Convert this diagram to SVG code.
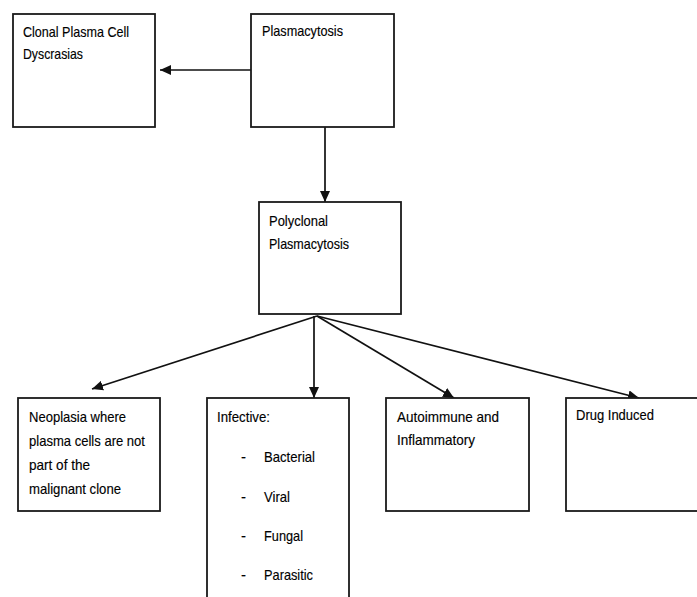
<svg xmlns="http://www.w3.org/2000/svg" width="697" height="597" viewBox="0 0 697 597">
<defs>
<style>
.box{fill:#fff;stroke:#1a1a1a;stroke-width:1.8}
.t{font-family:"Liberation Sans",Arial,sans-serif;font-size:15px;fill:#000;stroke:#000;stroke-width:0.15}
.c{stroke:#111;stroke-width:1.7;fill:none;marker-end:url(#ah)}
</style>
<marker id="ah" markerUnits="userSpaceOnUse" markerWidth="12" markerHeight="10" refX="11" refY="5" orient="auto">
<path d="M0,0 L11,5 L0,10 Z" fill="#111"/>
</marker>
</defs>
<rect width="697" height="597" fill="#fff"/>
<g id="connectors">
<line class="c" x1="251" y1="70" x2="160" y2="70"/>
<line class="c" x1="325" y1="127" x2="325" y2="202"/>
<line class="c" x1="317" y1="316" x2="92" y2="389"/>
<line class="c" x1="314" y1="316" x2="314" y2="398"/>
<line class="c" x1="317" y1="316" x2="454" y2="398"/>
<line class="c" x1="317" y1="316" x2="639" y2="398"/>
</g>
<g id="clonal">
<rect class="box" x="13" y="14" width="142" height="113"/>
<text class="t" x="23" y="37" textLength="106" lengthAdjust="spacingAndGlyphs">Clonal Plasma Cell</text>
<text class="t" x="23" y="59" textLength="60" lengthAdjust="spacingAndGlyphs">Dyscrasias</text>
</g>
<g id="plasmacytosis">
<rect class="box" x="251" y="14" width="143" height="113"/>
<text class="t" x="262" y="36" textLength="81" lengthAdjust="spacingAndGlyphs">Plasmacytosis</text>
</g>
<g id="polyclonal">
<rect class="box" x="259" y="202" width="142" height="112"/>
<text class="t" x="269" y="226" textLength="59" lengthAdjust="spacingAndGlyphs">Polyclonal</text>
<text class="t" x="269" y="249" textLength="80" lengthAdjust="spacingAndGlyphs">Plasmacytosis</text>
</g>
<g id="neoplasia">
<rect class="box" x="18" y="398" width="142" height="113"/>
<text class="t" x="29" y="422" textLength="97" lengthAdjust="spacingAndGlyphs">Neoplasia where</text>
<text class="t" x="29" y="446" textLength="116" lengthAdjust="spacingAndGlyphs">plasma cells are not</text>
<text class="t" x="29" y="470" textLength="61" lengthAdjust="spacingAndGlyphs">part of the</text>
<text class="t" x="29" y="494" textLength="92" lengthAdjust="spacingAndGlyphs">malignant clone</text>
</g>
<g id="infective">
<rect class="box" x="207" y="398" width="142" height="230"/>
<text class="t" x="217" y="422" textLength="53" lengthAdjust="spacingAndGlyphs">Infective:</text>
<text class="t" x="241" y="462">-</text>
<text class="t" x="264" y="462" textLength="51" lengthAdjust="spacingAndGlyphs">Bacterial</text>
<text class="t" x="241" y="502">-</text>
<text class="t" x="264" y="502" textLength="26" lengthAdjust="spacingAndGlyphs">Viral</text>
<text class="t" x="241" y="541">-</text>
<text class="t" x="264" y="541" textLength="39" lengthAdjust="spacingAndGlyphs">Fungal</text>
<text class="t" x="241" y="580">-</text>
<text class="t" x="264" y="580" textLength="49" lengthAdjust="spacingAndGlyphs">Parasitic</text>
</g>
<g id="autoimmune">
<rect class="box" x="386" y="398" width="143" height="113"/>
<text class="t" x="397" y="422" textLength="102" lengthAdjust="spacingAndGlyphs">Autoimmune and</text>
<text class="t" x="397" y="445" textLength="78" lengthAdjust="spacingAndGlyphs">Inflammatory</text>
</g>
<g id="drug">
<rect class="box" x="566" y="398" width="150" height="113"/>
<text class="t" x="576" y="420" textLength="78" lengthAdjust="spacingAndGlyphs">Drug Induced</text>
</g>
</svg>
